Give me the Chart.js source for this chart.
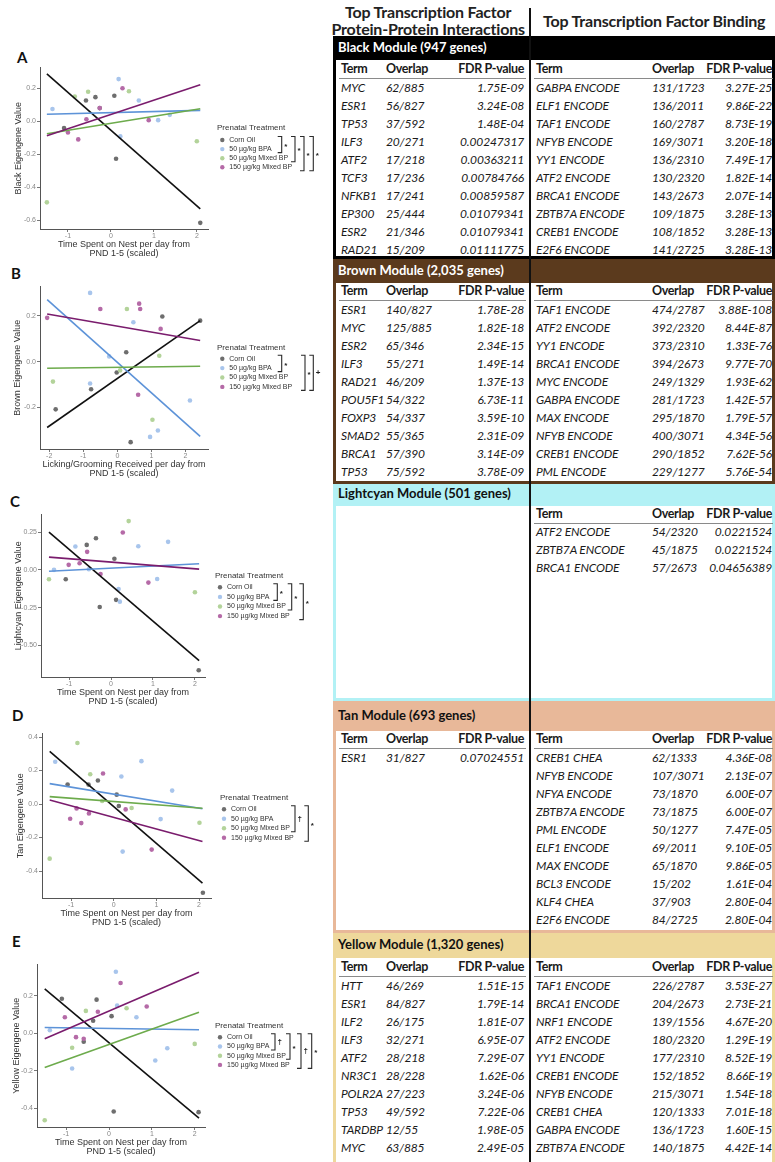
<!DOCTYPE html>
<html>
<head>
<meta charset="utf-8">
<script src="https://cdn.jsdelivr.net/npm/chart.js@4.4.1/dist/chart.umd.min.js"></script>
<style>
  body { margin: 0; width: 775px; height: 1162px; position: relative; background: #fff; overflow: hidden; font-family: Lato, 'Open Sans', sans-serif; }
  canvas.plot { position: absolute; left: 0; }
  .lbl { position: absolute; font: bold 15px Lato, sans-serif; color: #111; line-height: 18px; height: 18px; margin-top: -9px; }
  .t { position: absolute; height: 18px; line-height: 18px; white-space: nowrap; color: #1a1a1a; }
  .d { font: italic 12px Lato, sans-serif; letter-spacing: -0.15px; }
  .h { font: bold 12.5px Lato, sans-serif; letter-spacing: -0.35px; }
  .m { font: bold 13px Lato, sans-serif; }
  .top { font: bold 16px Lato, sans-serif; color: #222; letter-spacing: -0.2px; }
  .box { position: absolute; left: 333px; width: 442px; box-sizing: border-box; border: 3px solid; }
  .band { position: absolute; left: 333px; width: 442px; }
  .rule { position: absolute; height: 1px; background: #8a8a8a; }
  .divider { position: absolute; left: 529px; width: 1.5px; top: 8px; bottom: 0; background: #111; z-index: 3; }
</style>
</head>
<body>
<div class="divider"></div>
<script>
// ---- plot data ----
const groups = ['Corn Oil', '50 µg/kg BPA', '50 µg/kg Mixed BP', '150 µg/kg Mixed BP'];
const pointColors = ['#6e6e6e', '#a8c5ec', '#b3d39a', '#b56aa7'];
const lineColors = ['#111111', '#5d93d8', '#6dab4c', '#7a1c6d'];

// [x, y, group]
const ptsA = [
  [-1.09,-0.042,0],[-0.58,0.125,0],[-0.36,0.145,0],[-0.26,0.079,0],[0.08,0.153,0],[0.12,-0.227,0],[2.08,-0.614,0],
  [-1.36,0.073,1],[0.18,0.254,1],[0.22,-0.092,1],[0.65,0.125,1],[1.10,0.006,1],[1.37,0.038,1],
  [-1.49,-0.49,2],[-0.84,0.149,2],[-0.53,0.178,2],[0.42,0.181,2],[2.00,-0.121,2],
  [-1.00,-0.068,3],[-0.76,-0.11,3],[-0.57,0.012,3],[-0.26,0.079,3],[0.27,0.199,3],[0.88,0.006,3]
];
const ptsB = [
  [1.32,0.197,0],[2.43,0.179,0],[0.26,0.041,0],[-0.02,-0.047,0],[-0.77,-0.12,0],[-1.81,-0.208,0],[0.39,-0.351,0],
  [-0.80,0.30,1],[0.47,0.172,1],[-0.24,0.023,1],[-0.80,-0.095,1],[2.13,-0.169,1],[1.19,-0.30,1],[0.96,-0.328,1],
  [0.28,0.23,2],[1.23,0.026,2],[-1.89,-0.087,2],[0.08,-0.038,2],[1.03,-0.253,2],
  [-2.06,0.191,3],[-0.50,0.23,3],[0.64,0.253,3],[0.67,0.23,3],[1.27,0.143,3],[0.61,-0.144,3]
];
const ptsC = [
  [-1.08,-0.062,0],[-0.58,0.165,0],[-0.36,0.209,0],[-0.27,-0.245,0],[0.08,0.073,0],[0.12,-0.198,0],[2.09,-0.663,0],
  [-1.36,0.0,1],[-0.85,0.154,1],[-0.53,0.004,1],[0.18,-0.126,1],[0.21,-0.21,1],[0.65,0.156,1],[1.10,-0.06,1],[1.36,0.185,1],
  [-1.48,-0.062,2],[0.42,0.322,2],[2.00,-0.148,2],
  [-1.01,0.033,3],[-0.75,0.044,3],[-0.57,0.119,3],[-0.25,-0.027,3],[0.28,0.247,3],[0.89,-0.084,3]
];
const ptsD = [
  [-1.08,0.116,0],[-0.59,0.116,0],[-0.37,0.14,0],[0.07,0.056,0],[0.12,-0.012,0],[2.09,-0.53,0],
  [-1.37,0.252,1],[0.18,0.164,1],[0.65,0.256,1],[1.37,0.08,1],[1.10,-0.09,1],[0.21,-0.284,1],
  [-0.85,0.364,2],[-0.55,0.178,2],[-0.27,0.018,2],[0.42,-0.024,2],[2.01,-0.112,2],[-1.50,-0.326,2],
  [-0.25,0.182,3],[0.28,-0.032,3],[-0.87,-0.026,3],[-1.02,-0.088,3],[-0.76,-0.114,3],[-0.58,-0.056,3],[0.89,-0.272,3]
];
const ptsE = [
  [-1.10,0.184,0],[-0.59,-0.045,0],[-0.37,0.066,0],[-0.29,0.179,0],[0.06,0.091,0],[0.11,-0.418,0],[2.09,-0.421,0],
  [-1.38,0.016,1],[-0.86,-0.188,1],[0.16,0.328,1],[0.19,0.147,1],[0.64,0.085,1],[1.08,-0.146,1],[1.36,-0.08,1],
  [-0.86,-0.078,2],[-0.54,0.119,2],[0.41,0.133,2],[2.00,-0.057,2],[-1.50,-0.464,2],
  [-1.03,0.085,3],[-0.77,-0.021,3],[-0.59,-0.03,3],[-0.26,0.114,3],[0.27,0.268,3],[0.88,0.142,3]
];

// fitted lines per group: [x0, y0, x1, y1]
const fitA = [[-1.49,0.286,2.08,-0.53],[-1.49,0.042,2.08,0.065],[-1.49,-0.076,2.08,0.075],[-1.49,-0.088,2.08,0.22]];
const fitB = [[-2.06,-0.287,2.43,0.179],[-2.06,0.271,2.43,-0.326],[-2.06,-0.029,2.43,-0.02],[-2.06,0.208,2.43,0.092]];
const fitC = [[-1.48,0.249,2.10,-0.60],[-1.48,-0.009,2.10,0.04],null,[-1.48,0.084,2.10,0.005]];
const fitD = [[-1.50,0.314,2.08,-0.472],[-1.50,0.122,2.08,-0.028],[-1.50,0.044,2.08,-0.025],[-1.50,0.024,2.08,-0.224]];
const fitE = [[-1.50,0.236,2.10,-0.453],[-1.50,0.03,2.10,0.018],[-1.50,-0.183,2.10,0.112],[-1.50,-0.030,2.10,0.325]];

// significance brackets: [fromGroup, toGroup, symbol]
const sigA = [[0,1,'*'],[0,2,'*'],[0,3,'*'],[0,3,'*']];
const sigB = [[0,1,'*'],[0,3,'*'],[0,3,'+']];
const sigC = [[0,1,'*'],[0,2,'*'],[0,3,'*']];
const sigD = [[0,2,'†'],[0,3,'*']];
const sigE = [[0,1,'†'],[0,2,'*'],[0,3,'†'],[0,3,'*']];

const ticksX4 = [-1, 0, 1, 2];
const ticksX5 = [-2, -1, 0, 1, 2];
const ticksYA = [-0.6, -0.4, -0.2, 0, 0.2];
const ticksYB = [-0.2, 0, 0.2];
const ticksYC = [-0.5, -0.25, 0, 0.25];
const ticksYD = [-0.4, -0.2, 0, 0.2, 0.4];
const ticksYE = [-0.4, -0.2, 0, 0.2];

const nestTitle = ['Time Spent on Nest per day from', 'PND 1-5 (scaled)'];
const lickTitle = ['Licking/Grooming Received per day from', 'PND 1-5 (scaled)'];

// ---- table data: [term, overlap, FDR] ----
const moduleNames = ['Black Module (947 genes)', 'Brown Module (2,035 genes)', 'Lightcyan Module (501 genes)', 'Tan Module (693 genes)', 'Yellow Module (1,320 genes)'];
const blackPPI = [['MYC','62/885','1.75E-09'],['ESR1','56/827','3.24E-08'],['TP53','37/592','1.48E-04'],['ILF3','20/271','0.00247317'],['ATF2','17/218','0.00363211'],['TCF3','17/236','0.00784766'],['NFKB1','17/241','0.00859587'],['EP300','25/444','0.01079341'],['ESR2','21/346','0.01079341'],['RAD21','15/209','0.01111775']];
const blackTFB = [['GABPA ENCODE','131/1723','3.27E-25'],['ELF1 ENCODE','136/2011','9.86E-22'],['TAF1 ENCODE','160/2787','8.73E-19'],['NFYB ENCODE','169/3071','3.20E-18'],['YY1 ENCODE','136/2310','7.49E-17'],['ATF2 ENCODE','130/2320','1.82E-14'],['BRCA1 ENCODE','143/2673','2.07E-14'],['ZBTB7A ENCODE','109/1875','3.28E-13'],['CREB1 ENCODE','108/1852','3.28E-13'],['E2F6 ENCODE','141/2725','3.28E-13']];
const brownPPI = [['ESR1','140/827','1.78E-28'],['MYC','125/885','1.82E-18'],['ESR2','65/346','2.34E-15'],['ILF3','55/271','1.49E-14'],['RAD21','46/209','1.37E-13'],['POU5F1','54/322','6.73E-11'],['FOXP3','54/337','3.59E-10'],['SMAD2','55/365','2.31E-09'],['BRCA1','57/390','3.14E-09'],['TP53','75/592','3.78E-09']];
const brownTFB = [['TAF1 ENCODE','474/2787','3.88E-108'],['ATF2 ENCODE','392/2320','8.44E-87'],['YY1 ENCODE','373/2310','1.33E-76'],['BRCA1 ENCODE','394/2673','9.77E-70'],['MYC ENCODE','249/1329','1.93E-62'],['GABPA ENCODE','281/1723','1.42E-57'],['MAX ENCODE','295/1870','1.79E-57'],['NFYB ENCODE','400/3071','4.34E-56'],['CREB1 ENCODE','290/1852','7.62E-56'],['PML ENCODE','229/1277','5.76E-54']];
const lightcyanPPI = [];
const lightcyanTFB = [['ATF2 ENCODE','54/2320','0.0221524'],['ZBTB7A ENCODE','45/1875','0.0221524'],['BRCA1 ENCODE','57/2673','0.04656389']];
const tanPPI = [['ESR1','31/827','0.07024551']];
const tanTFB = [['CREB1 CHEA','62/1333','4.36E-08'],['NFYB ENCODE','107/3071','2.13E-07'],['NFYA ENCODE','73/1870','6.00E-07'],['ZBTB7A ENCODE','73/1875','6.00E-07'],['PML ENCODE','50/1277','7.47E-05'],['ELF1 ENCODE','69/2011','9.10E-05'],['MAX ENCODE','65/1870','9.86E-05'],['BCL3 ENCODE','15/202','1.61E-04'],['KLF4 CHEA','37/903','2.80E-04'],['E2F6 ENCODE','84/2725','2.80E-04']];
const yellowPPI = [['HTT','46/269','1.51E-15'],['ESR1','84/827','1.79E-14'],['ILF2','26/175','1.81E-07'],['ILF3','32/271','6.95E-07'],['ATF2','28/218','7.29E-07'],['NR3C1','28/228','1.62E-06'],['POLR2A','27/223','3.24E-06'],['TP53','49/592','7.22E-06'],['TARDBP','12/55','1.98E-05'],['MYC','63/885','2.49E-05']];
const yellowTFB = [['TAF1 ENCODE','226/2787','3.53E-27'],['BRCA1 ENCODE','204/2673','2.73E-21'],['NRF1 ENCODE','139/1556','4.67E-20'],['ATF2 ENCODE','180/2320','1.29E-19'],['YY1 ENCODE','177/2310','8.52E-19'],['CREB1 ENCODE','152/1852','8.66E-19'],['NFYB ENCODE','215/3071','1.54E-18'],['CREB1 CHEA','120/1333','7.01E-18'],['GABPA ENCODE','136/1723','1.60E-15'],['ZBTB7A ENCODE','140/1875','4.42E-14']];

// ---- layout (page pixels) ----
const AX = '"Liberation Sans", Arial, sans-serif';
const panels = [
  { label:'A', lx:22, ly:57, pts:ptsA, fit:fitA, sig:sigA, xTicks:ticksX4, yTicks:ticksYA, dec:1,
    xMin:-1.65, xMax:2.26, yMin:-0.654, yMax:0.327, yTitle:'Black Eigengene Value', xTitle:nestTitle,
    cTop:57, cBot:258, aTop:67, aBot:229.5, aL:40, aR:208, yTx:19,
    leg:{ titleX:217, titleY:127.3, dotX:222.3, row0:140, pitch:9.1, bx:[281.7,295,304,313.3] } },
  { label:'B', lx:16, ly:273, pts:ptsB, fit:fitB, sig:sigB, xTicks:ticksX5, yTicks:ticksYB, dec:1,
    xMin:-2.27, xMax:2.66, yMin:-0.383, yMax:0.33, yTitle:'Brown Eigengene Value', xTitle:lickTitle,
    cTop:276, cBot:478, aTop:286, aBot:449.5, aL:40, aR:208, yTx:18,
    leg:{ titleX:217, titleY:347.3, dotX:222.3, row0:358.7, pitch:9.4, bx:[281.7,305,313.3] } },
  { label:'C', lx:15, ly:501, pts:ptsC, fit:fitC, sig:sigC, xTicks:ticksX4, yTicks:ticksYC, dec:2,
    xMin:-1.67, xMax:2.24, yMin:-0.711, yMax:0.369, yTitle:'Lightcyan Eigengene Value', xTitle:nestTitle,
    cTop:504, cBot:706, aTop:514, aBot:677.5, aL:41, aR:205, yTx:19,
    leg:{ titleX:215, titleY:575.7, dotX:220, row0:587.3, pitch:9.6, bx:[277.3,291.7,303.3] } },
  { label:'D', lx:17, ly:715, pts:ptsD, fit:fitD, sig:sigD, xTicks:ticksX4, yTicks:ticksYD, dec:1,
    xMin:-1.68, xMax:2.28, yMin:-0.564, yMax:0.424, yTitle:'Tan Eigengene Value', xTitle:nestTitle,
    cTop:723, cBot:927, aTop:733, aBot:898.5, aL:42, aR:211, yTx:21,
    leg:{ titleX:220, titleY:797.3, dotX:224, row0:809.3, pitch:9.5, bx:[295,308.3] } },
  { label:'E', lx:17, ly:941, pts:ptsE, fit:fitE, sig:sigE, xTicks:ticksX4, yTicks:ticksYE, dec:1,
    xMin:-1.68, xMax:2.24, yMin:-0.503, yMax:0.369, yTitle:'Yellow Eigengene Value', xTitle:nestTitle,
    cTop:954, cBot:1156, aTop:964, aBot:1127.5, aL:37, aR:205, yTx:17,
    leg:{ titleX:215, titleY:1026, dotX:220, row0:1037.3, pitch:9.2, bx:[275,290,301,311.7] } }
];

// legend with significance brackets drawn on the canvas
const treatLegend = {
  id: 'treatLegend',
  afterDraw(chart, args, o) {
    const ctx = chart.ctx;
    const oy = o.top;
    ctx.save();
    ctx.textBaseline = 'middle';
    ctx.textAlign = 'left';
    ctx.fillStyle = '#333';
    ctx.font = '8px ' + AX;
    ctx.fillText('Prenatal Treatment', o.titleX, o.titleY - oy);
    ctx.font = '7px ' + AX;
    groups.forEach((g, i) => {
      const y = o.row0 + i * o.pitch - oy;
      ctx.fillStyle = pointColors[i];
      ctx.beginPath();
      ctx.arc(o.dotX, y, 2.2, 0, Math.PI * 2);
      ctx.fill();
      ctx.fillStyle = '#333';
      ctx.fillText(g, o.dotX + 7, y);
    });
    ctx.strokeStyle = '#2a2a2a';
    ctx.lineWidth = 1.1;
    o.sig.forEach((s, k) => {
      const x = o.bx[k];
      const y1 = o.row0 + s[0] * o.pitch - oy - 3.5;
      const y2 = o.row0 + s[1] * o.pitch - oy + 3.5;
      ctx.beginPath();
      ctx.moveTo(x - 4, y1); ctx.lineTo(x, y1); ctx.lineTo(x, y2); ctx.lineTo(x - 4, y2);
      ctx.stroke();
      ctx.fillStyle = '#222';
      ctx.font = 'bold 8px ' + AX;
      const sy = (y1 + y2) / 2 + (s[2] === '*' ? 2 : 0);
      ctx.fillText(s[2], x + 2.5, sy);
    });
    ctx.restore();
  }
};

panels.forEach(p => {
  const lab = document.createElement('div');
  lab.className = 'lbl';
  lab.textContent = p.label;
  lab.style.left = (p.lx - 5) + 'px';
  lab.style.top = p.ly + 'px';
  document.body.appendChild(lab);

  const cv = document.createElement('canvas');
  cv.className = 'plot';
  cv.width = 330;
  cv.height = p.cBot - p.cTop;
  cv.style.top = p.cTop + 'px';
  document.body.appendChild(cv);

  const datasets = [];
  p.fit.forEach((f, g) => {
    if (!f) return;
    datasets.push({
      data: [{ x: f[0], y: f[1] }, { x: f[2], y: f[3] }],
      showLine: true, borderColor: lineColors[g], borderWidth: 1.6,
      pointRadius: 0, fill: false, order: 4 - g
    });
  });
  groups.forEach((name, g) => {
    datasets.push({
      label: name,
      data: p.pts.filter(d => d[2] === g).map(d => ({ x: d[0], y: d[1] })),
      backgroundColor: pointColors[g], borderWidth: 0, pointRadius: 2.3,
      order: 10 + (3 - g)
    });
  });

  new Chart(cv.getContext('2d'), {
    type: 'scatter',
    data: { datasets },
    options: {
      responsive: false,
      animation: false,
      events: [],
      layout: { padding: { top: p.aTop - p.cTop, right: 330 - p.aR, left: 0, bottom: 0 } },
      scales: {
        x: {
          type: 'linear', min: p.xMin, max: p.xMax,
          afterBuildTicks: s => { s.ticks = p.xTicks.map(v => ({ value: v })); },
          afterFit: s => { s.height = p.cBot - p.aBot; },
          ticks: { font: { size: 7, family: AX }, color: '#888', padding: 0, maxRotation: 0, autoSkip: false,
                   callback: v => String(v) },
          grid: { drawOnChartArea: false, tickLength: 2.5, color: '#777' },
          border: { color: '#555', width: 1 },
          title: { display: true, text: p.xTitle, color: '#333',
                   font: { size: 9, family: AX, lineHeight: 1.0 }, padding: { top: 0, bottom: 0 } }
        },
        y: {
          type: 'linear', min: p.yMin, max: p.yMax,
          afterBuildTicks: s => { s.ticks = p.yTicks.map(v => ({ value: v })); },
          afterFit: s => { s.width = p.aL; },
          ticks: { font: { size: 7, family: AX }, color: '#888', padding: 1, autoSkip: false,
                   callback: v => Number(v).toFixed(p.dec) },
          grid: { drawOnChartArea: false, tickLength: 3, color: '#777' },
          border: { color: '#555', width: 1 },
          title: { display: true, text: p.yTitle, color: '#333',
                   font: { size: 9, family: AX, lineHeight: 1.333 }, padding: { top: p.yTx - 6, bottom: 0 } }
        }
      },
      plugins: {
        legend: { display: false },
        tooltip: { enabled: false },
        treatLegend: Object.assign({ top: p.cTop, sig: p.sig }, p.leg)
      }
    },
    plugins: [treatLegend]
  });
});

// ---- tables ----
const moduleColors = ['#000000', '#5b3a1d', '#b2f1f5', '#e8b899', '#eed89b'];
const moduleText = ['#ffffff', '#ffffff', '#111111', '#111111', '#111111'];
const modulePPI = [blackPPI, brownPPI, lightcyanPPI, tanPPI, yellowPPI];
const moduleTFB = [blackTFB, brownTFB, lightcyanTFB, tanTFB, yellowTFB];
const moduleBox = [
  { top:36, bottom:259, band:24, nameY:48, termY:70, row0:89 },
  { top:259, bottom:484, band:24, nameY:271, termY:292, row0:311 },
  { top:484, bottom:701, band:22, nameY:494, termY:515, row0:533 },
  { top:701, bottom:933, band:30, nameY:716, termY:740, row0:759 },
  { top:933, bottom:1166, band:25, nameY:945, termY:968, row0:987 }
];
const colL = { term:341, overlap:386, fdr:524, r0:339, r1:526 };
const colR = { term:536, overlap:652, fdr:772, r0:534, r1:773 };
const ROW = 18;

function txt(s, x, y, cls, right, color) {
  const d = document.createElement('div');
  d.className = 't ' + cls;
  d.textContent = s;
  d.style.top = (y - 9) + 'px';
  if (right) d.style.right = (775 - x) + 'px'; else d.style.left = x + 'px';
  if (color) d.style.color = color;
  d.style.zIndex = 4;
  document.body.appendChild(d);
  return d;
}
function div(cls, css) {
  const d = document.createElement('div');
  d.className = cls;
  Object.assign(d.style, css);
  document.body.appendChild(d);
}

// column headings at the top, centred on their columns
[['Top Transcription Factor', 428, 11], ['Protein-Protein Interactions', 428, 28], ['Top Transcription Factor Binding', 654, 20]]
  .forEach(([s, cx, cy]) => {
    const el = txt(s, cx, cy, 'top', false);
    el.style.left = (cx - el.offsetWidth / 2) + 'px';
  });

function table(rows, col, b) {
  if (!rows.length) return;
  txt('Term', col.term, b.termY, 'h');
  txt('Overlap', col.overlap, b.termY, 'h');
  txt('FDR P-value', col.fdr, b.termY, 'h', true);
  div('rule', { left: col.r0 + 'px', width: (col.r1 - col.r0) + 'px', top: (b.termY + 8) + 'px' });
  rows.forEach((r, i) => {
    const y = b.row0 + i * ROW;
    txt(r[0], col.term, y, 'd');
    txt(r[1], col.overlap, y, 'd');
    txt(r[2], col.fdr, y, 'd', true);
  });
}

moduleNames.forEach((name, m) => {
  const b = moduleBox[m];
  div('band', { top: b.top + 'px', height: b.band + 'px', background: moduleColors[m] });
  div('box', { top: b.top + 'px', height: (b.bottom - b.top) + 'px', borderColor: moduleColors[m] });
  txt(name, 338, b.nameY, 'm', false, moduleText[m]);
  table(modulePPI[m], colL, b);
  table(moduleTFB[m], colR, b);
});
</script>
</body>
</html>
